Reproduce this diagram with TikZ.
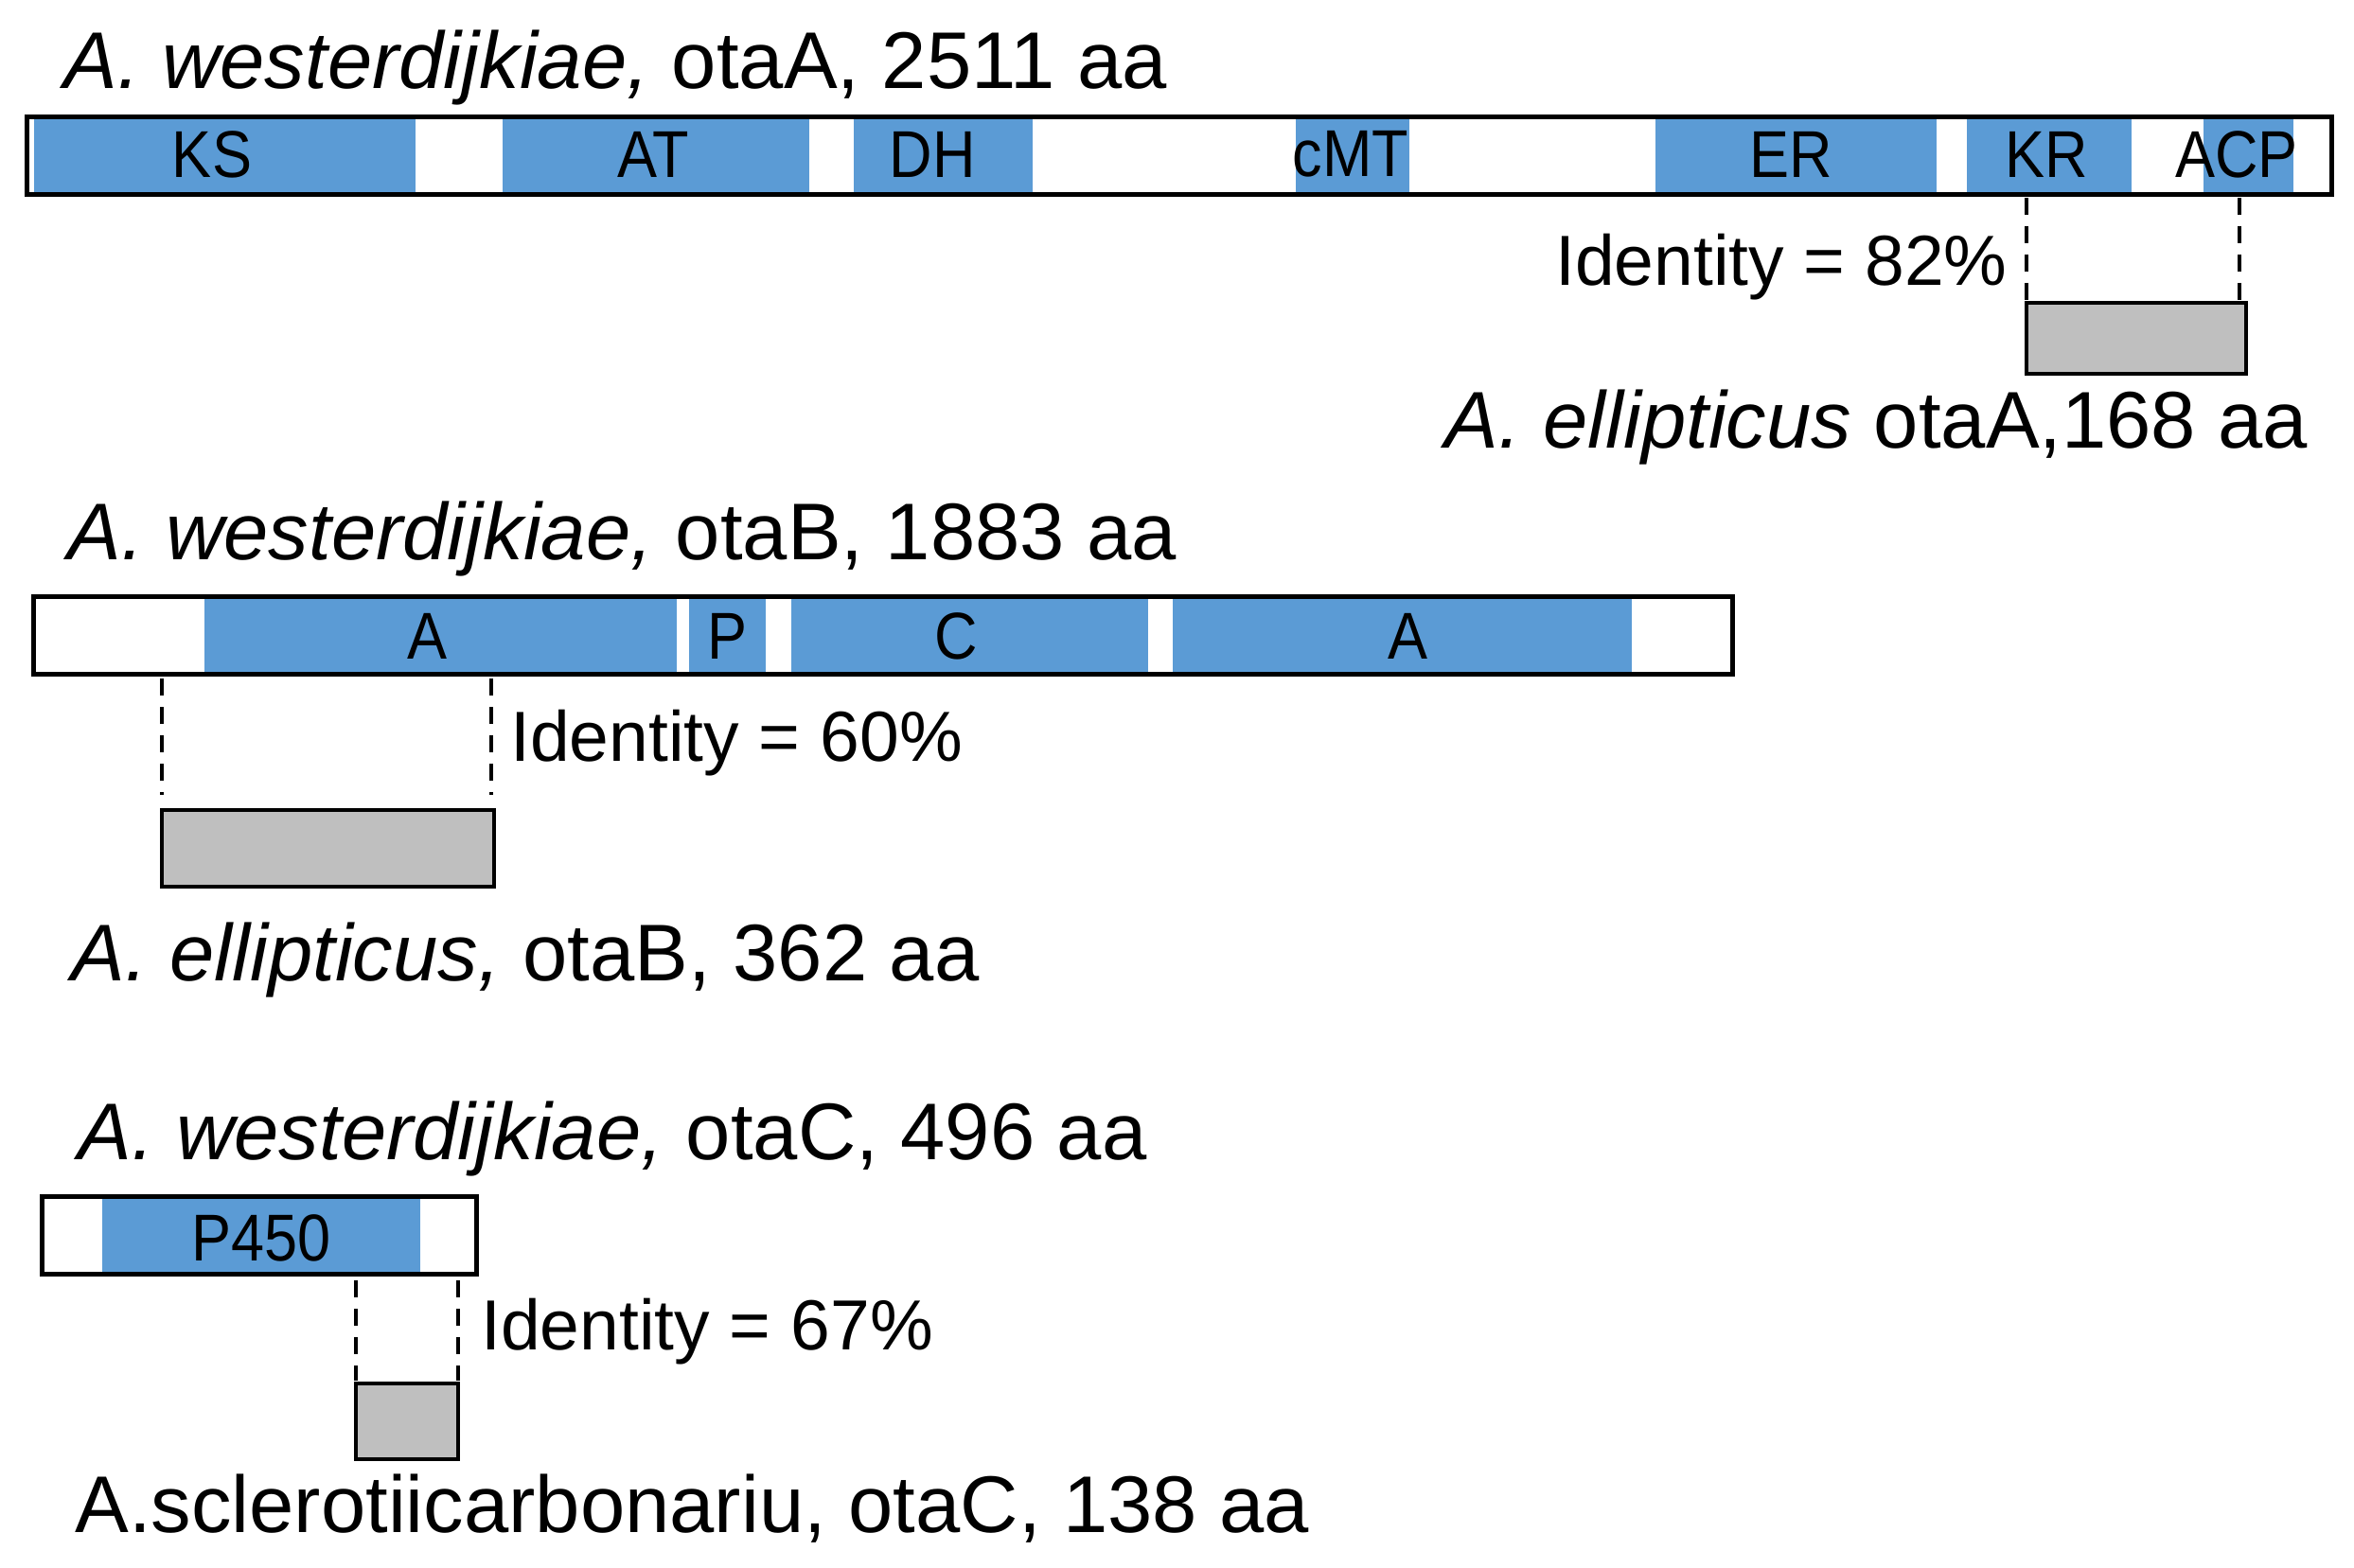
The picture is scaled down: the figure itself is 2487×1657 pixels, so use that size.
\documentclass[tikz,border=0pt]{standalone}
\usepackage{fontspec}
\setmainfont{Liberation Sans}
\newfontfamily\domfont[FakeStretch=0.9]{Liberation Sans}
\definecolor{domblue}{HTML}{5B9BD5}
\definecolor{hitgray}{HTML}{BFBFBF}
\begin{document}
\begin{tikzpicture}[x=0.5pt,y=-0.5pt,
  genebox/.style={draw=black,line width=2.5pt,fill=none,rectangle,inner sep=0pt,minimum height=41pt},
  dom/.style={fill=domblue,draw=none,rectangle,inner sep=0pt,minimum height=40pt},
  hitbox/.style={draw=black,line width=2pt,fill=hitgray,rectangle,inner sep=0pt},
  domlabel/.style={inner sep=0pt,font=\domfont\fontsize{35}{40}\selectfont},
  ttl/.style={inner sep=0pt,anchor=base west,font=\fontsize{42.5}{50}\selectfont},
  idl/.style={inner sep=0pt,font=\fontsize{37.5}{44}\selectfont},
  dashline/.style={line width=1.6pt,dash pattern=on 9pt off 6pt}]
\fill[white] (0,0) rectangle (2487,1657);
\useasboundingbox (0,0) rectangle (2487,1657);

% ---------- otaA ----------
\node[ttl] (tA) at (67,94) {\textit{A. westerdijkiae,} otaA, 2511 aa};
\node[dom,minimum width=201.5pt] (dKS) at (237.5,165) {};
\node[dom,minimum width=162pt] (dAT) at (693,165) {};
\node[dom,minimum width=94.5pt] (dDH) at (996.5,165) {};
\node[dom,minimum width=60pt] (dcMT) at (1429,165) {};
\node[dom,minimum width=148.5pt] (dER) at (1897.5,165) {};
\node[dom,minimum width=87pt] (dKR) at (2165,165) {};
\node[dom,minimum width=47.5pt] (dACP) at (2375.5,165) {};
\node[genebox,minimum width=1217.5pt] (gA) at (1245.5,165) {};
\node[domlabel] (lKS) at (224,163) {KS};
\node[domlabel] (lAT) at (690,163) {AT};
\node[domlabel] (lDH) at (985,163) {DH};
\node[domlabel] (lcMT) at (1427,163) {cMT};
\node[domlabel] (lER) at (1892,163) {ER};
\node[domlabel] (lKR) at (2162,163) {KR};
\node[domlabel] (lACP) at (2363,163) {ACP};
\node[hitbox,minimum width=116pt,minimum height=37.5pt] (hA) at (2257,357.5) {};
\coordinate (aL1) at (2141,209);
\coordinate (aL2) at (2141,320);
\coordinate (aR1) at (2366,209);
\coordinate (aR2) at (2366,320);
\draw[dashline] (aL1) -- (aL2);
\draw[dashline] (aR1) -- (aR2);
\node[idl,anchor=base east] (iA) at (2121,302) {Identity = 82\%};
\node[ttl] (eA) at (1526,474) {\textit{A. ellipticus} otaA,168 aa};

% ---------- otaB ----------
\node[ttl] (tB) at (71,591) {\textit{A. westerdijkiae,} otaB, 1883 aa};
\node[dom,minimum width=249.5pt] (dA1) at (465.5,671) {};
\node[dom,minimum width=40.5pt] (dP) at (768.5,671) {};
\node[dom,minimum width=188.5pt] (dC) at (1024.5,671) {};
\node[dom,minimum width=242.5pt] (dA2) at (1481.5,671) {};
\node[genebox,minimum width=897.5pt] (gB) at (932.5,671) {};
\node[domlabel] (lA1) at (452,672) {A};
\node[domlabel] (lP) at (768,672) {P};
\node[domlabel] (lC) at (1010,672) {C};
\node[domlabel] (lA2) at (1487,672) {A};
\node[hitbox,minimum width=175.5pt,minimum height=40.5pt] (hB) at (346.5,896.5) {};
\coordinate (bL1) at (171,717);
\coordinate (bL2) at (171,840);
\coordinate (bR1) at (519,717);
\coordinate (bR2) at (519,840);
\draw[dashline] (bL1) -- (bL2);
\draw[dashline] (bR1) -- (bR2);
\node[idl,anchor=base west] (iB) at (539,804) {Identity = 60\%};
\node[ttl] (eB) at (75,1036) {\textit{A. ellipticus,} otaB, 362 aa};

% ---------- otaC ----------
\node[ttl] (tC) at (82,1225) {\textit{A. westerdijkiae,} otaC, 496 aa};
\node[dom,minimum width=168pt] (dP450) at (276,1305) {};
\node[genebox,minimum width=229.5pt] (gC) at (273.5,1305) {};
\node[domlabel] (lP450) at (276,1308) {P450};
\node[hitbox,minimum width=54pt,minimum height=40pt] (hC) at (430,1502) {};
\coordinate (cL1) at (376,1353);
\coordinate (cL2) at (376,1459);
\coordinate (cR1) at (484,1353);
\coordinate (cR2) at (484,1459);
\draw[dashline] (cL1) -- (cL2);
\draw[dashline] (cR1) -- (cR2);
\node[idl,anchor=base west] (iC) at (508,1426) {Identity = 67\%};
\node[ttl] (eC) at (79,1619) {A.sclerotiicarbonariu, otaC, 138 aa};
\end{tikzpicture}
\end{document}
